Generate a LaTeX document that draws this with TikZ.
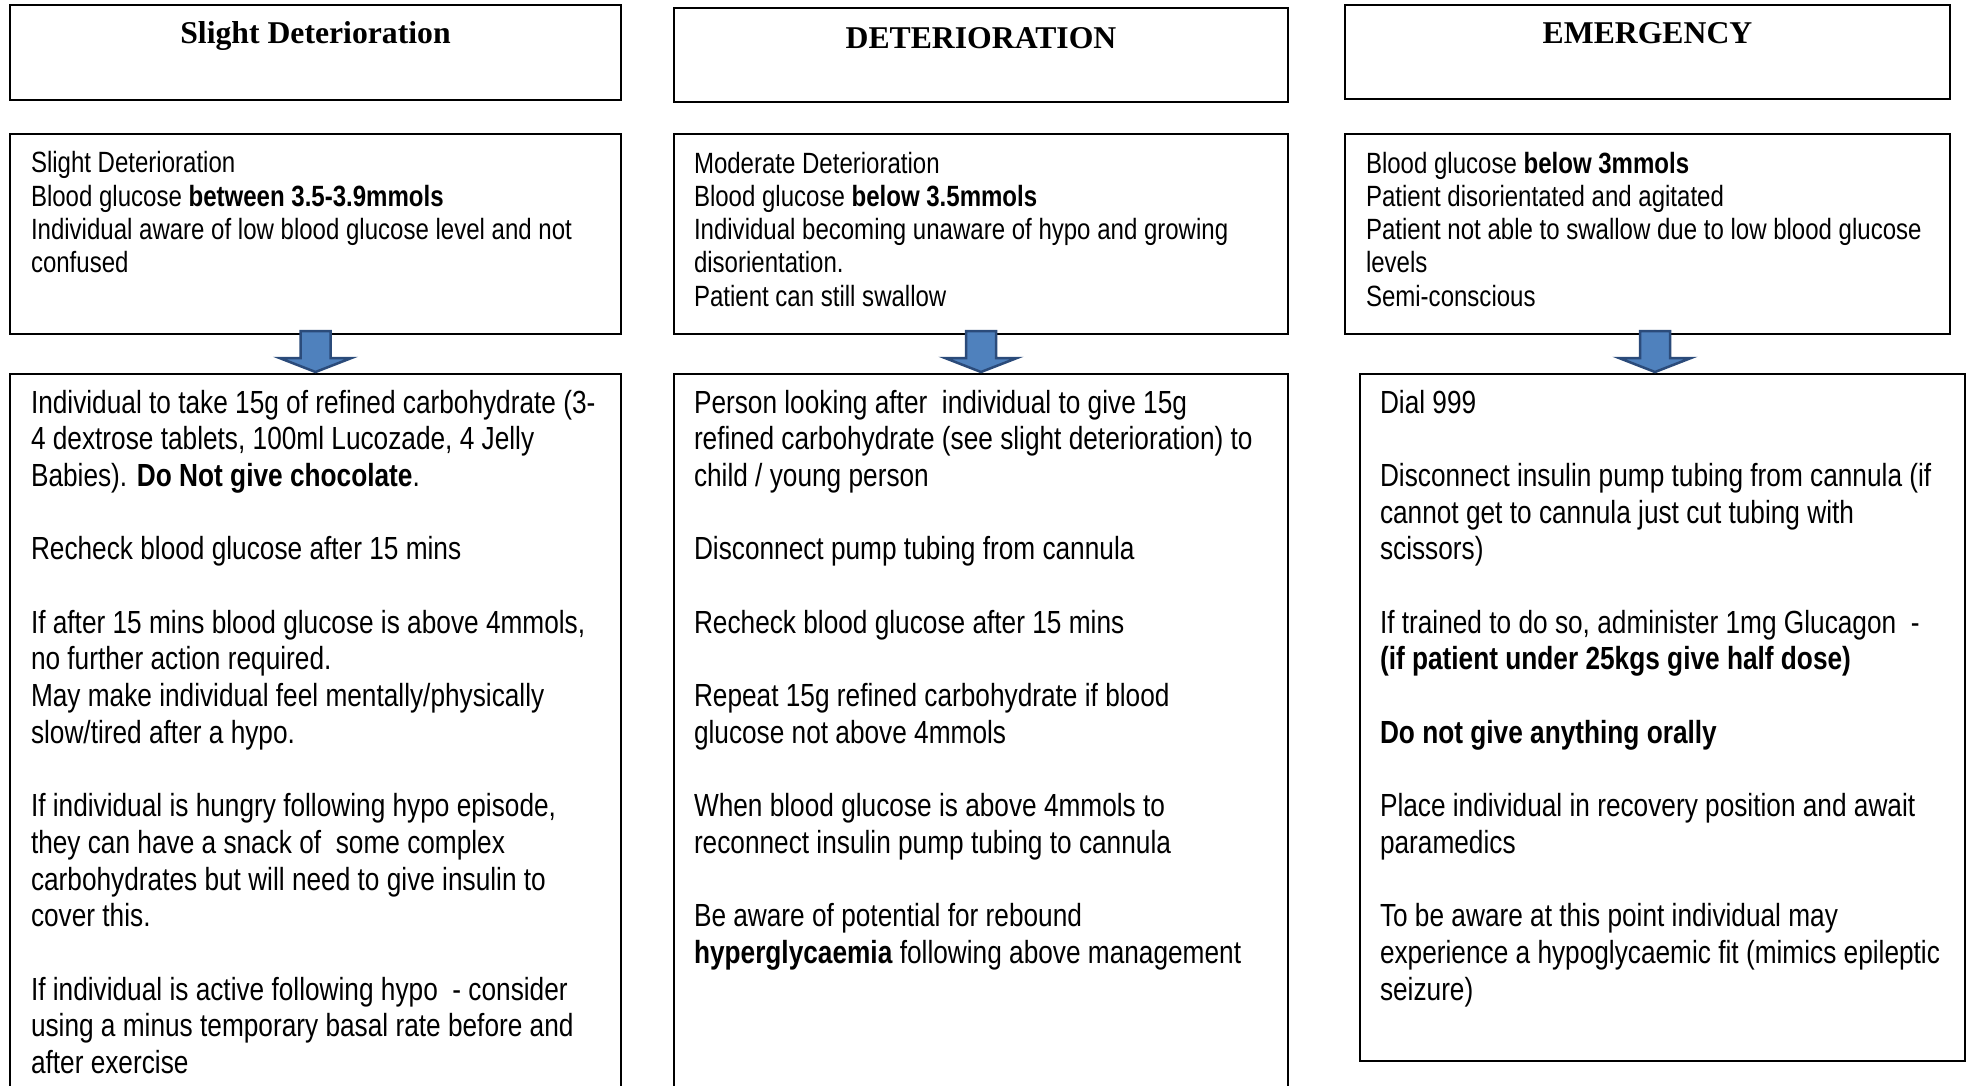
\documentclass[tikz,border=0pt]{standalone}
\usepackage{fontspec}
\setmainfont{Liberation Serif}
\newfontfamily\narrowsans[FakeStretch=0.82]{Liberation Sans}
\usetikzlibrary{positioning,calc}

\definecolor{arrowfill}{HTML}{4F81BD}
\definecolor{arrowline}{HTML}{2B4B7A}

\tikzset{
  hdrbox/.style={draw, line width=2.4pt, inner sep=0pt, outer sep=0pt,
    font=\bfseries\fontsize{31.7}{36}\selectfont},
  midbox/.style={draw, line width=1.8pt, inner sep=0pt, outer sep=0pt, minimum height=200pt},
  botbox/.style={draw, line width=1.8pt, inner sep=0pt, outer sep=0pt},
  midtext/.style={inner sep=0pt, outer sep=0pt, align=left,
    font=\narrowsans\fontsize{29.3}{33.3}\selectfont},
  bottext/.style={inner sep=0pt, outer sep=0pt, align=left,
    font=\narrowsans\fontsize{32}{36.7}\selectfont},
  flowarrow/.style={fill=arrowfill, draw=arrowline, line width=2.5pt, line join=miter}
}

% block arrow between two stacked boxes
\newcommand{\flowdown}[2]{%
  \coordinate (#1c) at ($(#1.south)!.5!(#2.north |- #1.south)$);
  \draw[flowarrow] ($(#1c)+(-15,-3)$) -- ($(#1c)+(15,-3)$) -- ($(#1c)+(15,24)$)
    -- ($(#1c)+(36,24)$) -- ($(#1c)+(0,38)$) -- ($(#1c)+(-36,24)$)
    -- ($(#1c)+(-15,24)$) -- cycle;}
\def\skipline{\\[36.7pt]}

\begin{document}
\begin{tikzpicture}[x=1pt, y=-1pt]
\useasboundingbox (0,0) rectangle (1982,1086);
\clip (0,0) rectangle (1982,1086);

% headers
\node[hdrbox, minimum width=611pt, text height=39pt, text depth=56pt, anchor=north west] (h1) at (10,5) {Slight Deterioration};
\node[hdrbox, minimum width=614pt, text height=41pt, text depth=53pt, anchor=north west] (h2) at (674,8) {DETERIORATION};
\node[hdrbox, minimum width=605pt, text height=39pt, text depth=55pt, anchor=north west] (h3) at (1345,5) {EMERGENCY};

% symptom boxes
\node[midbox, minimum width=611pt, anchor=north west] (m1) at (10,134) {};
\node[midbox, minimum width=614pt, anchor=north west] (m2) at (674,134) {};
\node[midbox, minimum width=605pt, anchor=north west] (m3) at (1345,134) {};

% action boxes
\node[botbox, minimum width=611pt, minimum height=740pt, anchor=north west] (b1) at (10,374) {};
\node[botbox, minimum width=614pt, minimum height=740pt, anchor=north west] (b2) at (674,374) {};
\node[botbox, minimum width=605pt, minimum height=687pt, anchor=north west] (b3) at (1360,374) {};

\flowdown{m1}{b1}
\flowdown{m2}{b2}
\flowdown{m3}{b3}

\node[midtext, below right=15pt and 21pt of m1.north west] (m1t) {\rule{0pt}{24pt}Slight Deterioration\\
  Blood glucose \textbf{between 3.5-3.9mmols}\\
  Individual aware of low blood glucose level and not\\
  confused};
\node[midtext, below right=15pt and 20pt of m2.north west] (m2t) {\rule{0pt}{24pt}Moderate Deterioration\\
  Blood glucose \textbf{below 3.5mmols}\\
  Individual becoming unaware of hypo and growing\\
  disorientation.\\
  Patient can still swallow};
\node[midtext, below right=15pt and 21pt of m3.north west] (m3t) {\rule{0pt}{24pt}Blood glucose \textbf{below 3mmols}\\
  Patient disorientated and agitated\\
  Patient not able to swallow due to low blood glucose\\
  levels\\
  Semi-conscious};

\node[bottext, below right=13pt and 21pt of b1.north west] (b1t) {\rule{0pt}{26pt}Individual to take 15g of refined carbohydrate (3-\\
  4 dextrose tablets, 100ml Lucozade, 4 Jelly\\
  Babies). \textbf{Do Not give chocolate}.\skipline
  Recheck blood glucose after 15 mins\skipline
  If after 15 mins blood glucose is above 4mmols,\\
  no further action required.\\
  May make individual feel mentally/physically\\
  slow/tired after a hypo.\skipline
  If individual is hungry following hypo episode,\\
  they can have a snack of~ some complex\\
  carbohydrates but will need to give insulin to\\
  cover this.\skipline
  If individual is active following hypo~ - consider\\
  using a minus temporary basal rate before and\\
  after exercise};
\node[bottext, below right=13pt and 20pt of b2.north west] (b2t) {\rule{0pt}{26pt}Person looking after~ individual to give 15g\\
  refined carbohydrate (see slight deterioration) to\\
  child / young person\skipline
  Disconnect pump tubing from cannula\skipline
  Recheck blood glucose after 15 mins\skipline
  Repeat 15g refined carbohydrate if blood\\
  glucose not above 4mmols\skipline
  When blood glucose is above 4mmols to\\
  reconnect insulin pump tubing to cannula\skipline
  Be aware of potential for rebound\\
  \textbf{hyperglycaemia} following above management};
\node[bottext, below right=13pt and 20pt of b3.north west] (b3t) {\rule{0pt}{26pt}Dial 999\skipline
  Disconnect insulin pump tubing from cannula (if\\
  cannot get to cannula just cut tubing with\\
  scissors)\skipline
  If trained to do so, administer 1mg Glucagon~ -\\
  \textbf{(if patient under 25kgs give half dose)}\skipline
  \textbf{Do not give anything orally}\skipline
  Place individual in recovery position and await\\
  paramedics\skipline
  To be aware at this point individual may\\
  experience a hypoglycaemic fit (mimics epileptic\\
  seizure)};
\end{tikzpicture}
\end{document}
